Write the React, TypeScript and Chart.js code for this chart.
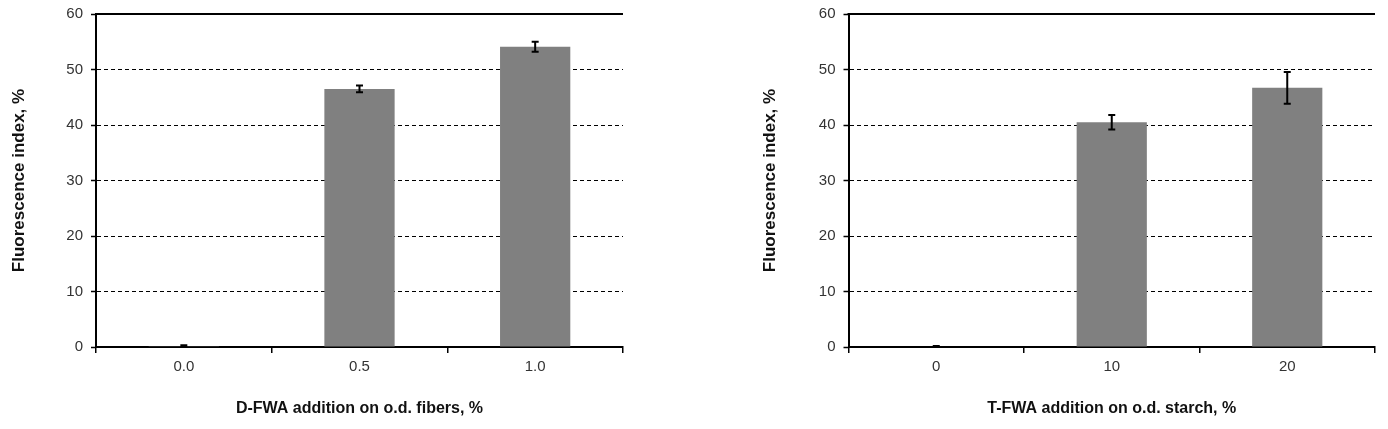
import React, { useEffect, useRef } from "react";
import { Chart, registerables } from "chart.js";

Chart.register(...registerables);

// ---- Data ----
const leftCategories = ["0.0", "0.5", "1.0"];
const leftValues = [0.15, 46.5, 54.1];
const leftErrors = [0.15, 0.6, 0.9];

const rightCategories = ["0", "10", "20"];
const rightValues = [0.1, 40.5, 46.7];
const rightErrors = [0.1, 1.3, 2.85];

const yMin = 0;
const yMax = 60;
const yStep = 10;

const yTitle = "Fluorescence index, %";
const leftXTitle = "D-FWA addition on o.d. fibers, %";
const rightXTitle = "T-FWA addition on o.d. starch, %";

const FONT = "'Liberation Sans', Arial, Helvetica, sans-serif";

type PanelProps = {
  left: number;
  categories: string[];
  values: number[];
  errors: number[];
  xTitle: string;
  yAxisWidth: number;
  yTitlePad: number;
  padRight: number;
};

function Panel(props: PanelProps) {
  const ref = useRef<HTMLCanvasElement | null>(null);

  useEffect(() => {
    if (!ref.current) return;
    const errs = props.errors;

    const errorBars = {
      id: "errorBarsCustom",
      afterDatasetsDraw(chart: any) {
        const ctx = chart.ctx;
        const xs = chart.scales.x;
        const ys = chart.scales.y;
        const vals = chart.data.datasets[0].data as number[];
        ctx.save();
        ctx.strokeStyle = "#000";
        ctx.lineWidth = 2;
        vals.forEach((v, i) => {
          const e = errs[i];
          const x = xs.getPixelForValue(i);
          const y1 = ys.getPixelForValue(v + e);
          const y2 = ys.getPixelForValue(v - e);
          ctx.beginPath();
          ctx.moveTo(x, y1);
          ctx.lineTo(x, y2);
          ctx.moveTo(x - 3.5, y1);
          ctx.lineTo(x + 3.5, y1);
          ctx.moveTo(x - 3.5, y2);
          ctx.lineTo(x + 3.5, y2);
          ctx.stroke();
        });
        ctx.restore();
      },
    };

    const topBorder = {
      id: "topBorderCustom",
      afterDraw(chart: any) {
        const { ctx, chartArea } = chart;
        ctx.save();
        ctx.strokeStyle = "#000";
        ctx.lineWidth = 2;
        ctx.beginPath();
        ctx.moveTo(chartArea.left - 1, Math.round(chartArea.top));
        ctx.lineTo(chartArea.right, Math.round(chartArea.top));
        ctx.stroke();
        ctx.restore();
      },
    };

    const chart = new Chart(ref.current, {
      type: "bar",
      data: {
        labels: props.categories,
        datasets: [
          {
            data: props.values,
            backgroundColor: "#808080",
            borderWidth: 0,
            barPercentage: 0.4,
            categoryPercentage: 1.0,
          },
        ],
      },
      options: {
        animation: false,
        responsive: false,
        maintainAspectRatio: false,
        layout: { padding: { left: 0, top: 14, right: props.padRight, bottom: 0 } },
        plugins: {
          legend: { display: false },
          tooltip: { enabled: false },
        },
        scales: {
          x: {
            offset: true,
            grid: {
              display: true,
              drawOnChartArea: false,
              offset: true,
              tickLength: 6,
              color: "#000",
              lineWidth: 1.5,
            },
            border: { display: true, color: "#000", width: 2 },
            ticks: {
              color: "#333",
              font: { family: FONT, size: 15 },
              padding: 5,
              maxRotation: 0,
            },
            title: {
              display: true,
              text: props.xTitle,
              color: "#111",
              font: { family: FONT, size: 16, weight: "bold" },
              padding: { top: 0, bottom: 11 },
            },
            afterFit: (s: any) => {
              s.height = 82;
              s.paddingLeft = 0;
              s.paddingRight = 0;
            },
          },
          y: {
            min: yMin,
            max: yMax,
            grid: {
              color: (c: any) =>
                c.tick && (c.tick.value === yMin || c.tick.value === yMax)
                  ? "rgba(0,0,0,0)"
                  : "#000",
              tickColor: "#000",
              tickLength: 5,
              lineWidth: 1,
              tickWidth: 1.5,
            },
            border: { display: true, color: "#000", width: 2, dash: [4, 3] },
            ticks: {
              stepSize: yStep,
              color: "#333",
              font: { family: FONT, size: 15 },
              padding: 8,
            },
            title: {
              display: true,
              text: yTitle,
              color: "#111",
              font: { family: FONT, size: 17, weight: "bold" },
              padding: { top: props.yTitlePad, bottom: 0 },
            },
            afterFit: (s: any) => {
              s.width = props.yAxisWidth;
              s.paddingTop = 0;
              s.paddingBottom = 0;
            },
          },
        },
      } as any,
      plugins: [errorBars, topBorder],
    });

    return () => chart.destroy();
  }, []);

  return (
    <canvas
      ref={ref}
      width={694}
      height={429}
      style={{ position: "absolute", left: props.left, top: 0, display: "block" }}
    />
  );
}

export default function App() {
  return (
    <div
      style={{
        position: "absolute",
        left: 0,
        top: 0,
        width: 1388,
        height: 429,
        background: "#fff",
        overflow: "hidden",
      }}
    >
      <Panel
        left={0}
        categories={leftCategories}
        values={leftValues}
        errors={leftErrors}
        xTitle={leftXTitle}
        yAxisWidth={96}
        yTitlePad={9}
        padRight={71}
      />
      <Panel
        left={694}
        categories={rightCategories}
        values={rightValues}
        errors={rightErrors}
        xTitle={rightXTitle}
        yAxisWidth={154.5}
        yTitlePad={65.8}
        padRight={13}
      />
    </div>
  );
}
